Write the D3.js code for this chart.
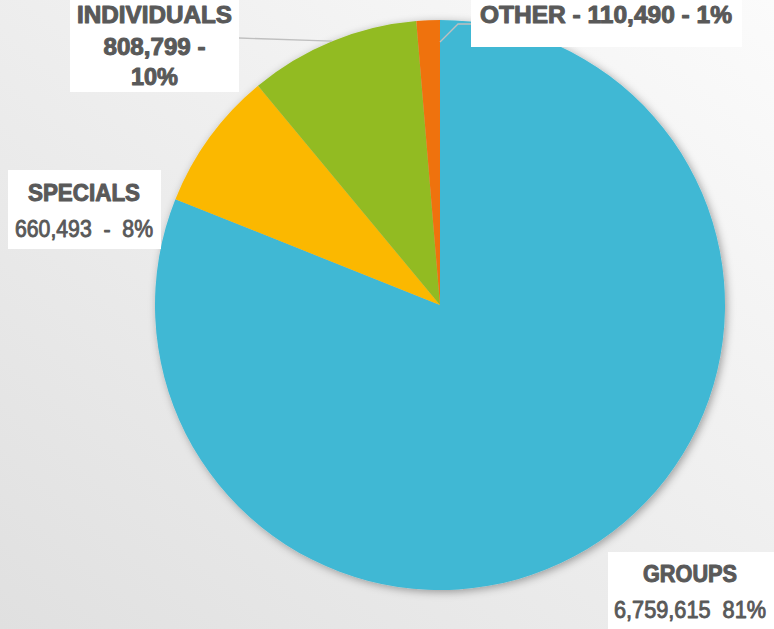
<!DOCTYPE html>
<html><head><meta charset="utf-8">
<script src="https://cdn.jsdelivr.net/npm/d3@7/dist/d3.min.js"></script>
<style>html,body{margin:0;padding:0;overflow:hidden;}svg{display:block;}</style>
</head><body>
<script>
const categories = ["GROUPS", "SPECIALS", "INDIVIDUALS", "OTHER"];
const values = [6759615, 660493, 808799, 110490];
const percents = ["81%", "8%", "10%", "1%"];
const colors = ["#3fb8d4", "#fbb800", "#92bb24", "#ef720c"];

const W = 774, H = 629;
const svg = d3.select("body").append("svg").attr("width", W).attr("height", H);
const defs = svg.append("defs");
const bg = defs.append("linearGradient").attr("id", "bg")
  .attr("x1", "100%").attr("y1", "0%").attr("x2", "0%").attr("y2", "100%");
bg.append("stop").attr("offset", "0%").attr("stop-color", "#fbfbfb");
bg.append("stop").attr("offset", "100%").attr("stop-color", "#e0e0e0");
const f = defs.append("filter").attr("id", "sh").attr("x", "-20%").attr("y", "-20%").attr("width", "140%").attr("height", "140%");
f.append("feDropShadow").attr("dx", 2).attr("dy", 2).attr("stdDeviation", 4)
  .attr("flood-color", "#000").attr("flood-opacity", 0.35);

svg.append("rect").attr("width", W).attr("height", H).attr("fill", "url(#bg)");

const cx = 440, cy = 305, R = 285;
const pie = d3.pie().sort(null).value(d => d.v);
const data = categories.map((c, i) => ({c, v: values[i], col: colors[i]}));
const arcs = pie(data);
const arc = d3.arc().innerRadius(0).outerRadius(R);
const g = svg.append("g").attr("transform", `translate(${cx},${cy})`);
const pg = g.append("g").attr("filter", "url(#sh)");
pg.selectAll("path").data(arcs).join("path")
  .attr("d", arc).attr("fill", d => d.data.col);

// leader lines
const midPt = (a, r) => { const m = (a.startAngle + a.endAngle) / 2; return [cx + r * Math.sin(m), cy - r * Math.cos(m)]; };
const pInd = midPt(arcs[2], R);
svg.append("polyline").attr("points", `239,38 ${pInd[0]},${pInd[1]}`)
  .attr("fill", "none").attr("stroke", "#bfbfbf").attr("stroke-width", 1.3);
svg.append("polyline").attr("points", `${cx},42 458,24 471,24`)
  .attr("fill", "none").attr("stroke", "#bfbfbf").attr("stroke-width", 1.3);

const fmt = d3.format(",");
const labels = [
  {box: [608, 552, 166, 77], cx: 690, lines: [
    {t: categories[0], y: 582, w: 94, b: true},
    {t: fmt(values[0]) + "\u00a0\u00a0" + percents[0], y: 618, w: 152, b: false}]},
  {box: [8, 170, 153, 79], cx: 84, lines: [
    {t: categories[1], y: 201, w: 112, b: true},
    {t: fmt(values[1]) + "\u00a0\u00a0-\u00a0\u00a0" + percents[1], y: 237, w: 138, b: false}]},
  {box: [70, 0, 169, 92], cx: 154.5, lines: [
    {t: categories[2], y: 23, w: 155, b: true},
    {t: fmt(values[2]) + " -", y: 55, w: 102, b: true},
    {t: percents[2], y: 85, w: 47, b: true}]},
  {box: [471, 0, 271, 47], cx: 606, lines: [
    {t: categories[3] + " - " + fmt(values[3]) + " - " + percents[3], y: 23, w: 252, b: true}]}
];
labels.forEach(L => {
  svg.append("rect").attr("x", L.box[0]).attr("y", L.box[1]).attr("width", L.box[2]).attr("height", L.box[3]).attr("fill", "#ffffff");
  L.lines.forEach(l => {
    svg.append("text").attr("x", L.cx).attr("y", l.y).attr("text-anchor", "middle")
      .attr("font-family", "Liberation Sans, Arial, sans-serif")
      .attr("font-size", 23).attr("font-weight", l.b ? "bold" : "normal")
      .attr("fill", "#595959").attr("stroke", "#595959")
      .attr("stroke-width", l.b ? 1.0 : 0.9).attr("stroke-linejoin", "round")
      .attr("textLength", l.w).attr("lengthAdjust", "spacingAndGlyphs")
      .text(l.t);
  });
});
</script>
</body></html>
